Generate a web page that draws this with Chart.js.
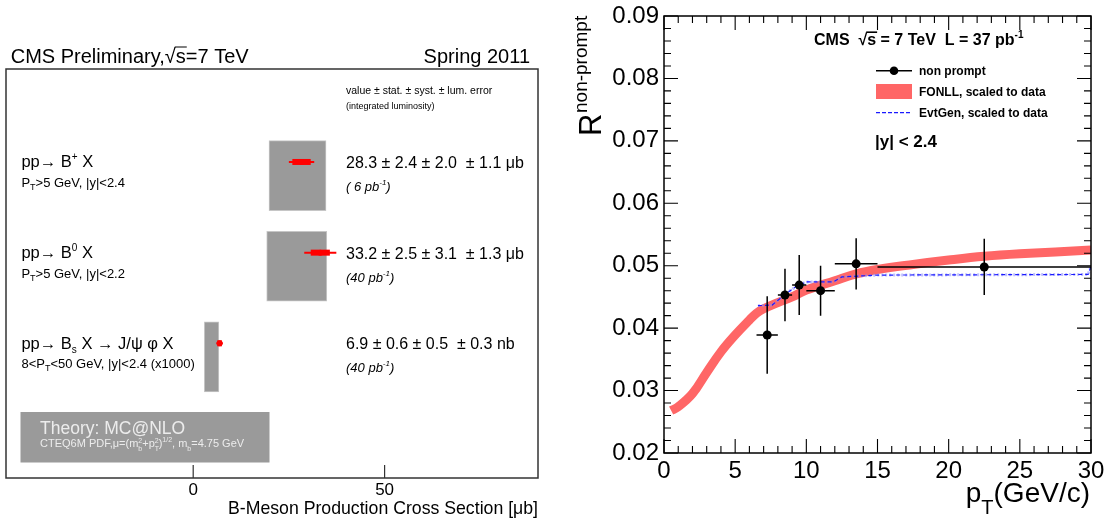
<!DOCTYPE html>
<html>
<head>
<meta charset="utf-8">
<script src="https://cdn.jsdelivr.net/npm/chart.js@4.4.1/dist/chart.umd.min.js"></script>
<style>
  html, body { margin: 0; padding: 0; background: #fff; }
  #wrap { position: relative; width: 1110px; height: 521px; overflow: hidden; }
  #wrap canvas { position: absolute; left: 0; top: 0; }
</style>
</head>
<body>
<div id="wrap">
  <canvas id="xsecChart" width="1110" height="521"></canvas>
  <canvas id="ratioChart" width="1110" height="521"></canvas>
</div>
<script>
// ---------- left panel: B-meson cross sections ----------
const channelRows = [1, 2, 3];
const xsecValues = [28.3, 33.2, 6.9];
const statErrors = [2.4, 2.5, 0.6];
const systErrors = [2.0, 3.1, 0.5];
const lumiErrors = [1.1, 1.3, 0.3];
const xsecUnits = ['μb', 'μb', 'nb'];
const lumiLabels = [' 6', '40', '40'];
const theoryLow = [19.8, 19.2, 2.9];
const theoryHigh = [34.7, 34.9, 6.7];
const xsecTicks = [0, 50];

// ---------- right panel: non-prompt ratio vs pT ----------
const ptCenters = [7.25, 8.5, 9.5, 11, 13.5, 22.5];
const ptBinLow = [6.5, 8, 9, 10, 12, 15];
const ptBinHigh = [8, 9, 10, 12, 15, 30];
const ratioValues = [0.0389, 0.0453, 0.0469, 0.0460, 0.0503, 0.0498];
const ratioErrors = [0.0062, 0.0042, 0.0048, 0.0040, 0.0041, 0.0045];
const fonllPt = [0.5, 1, 2, 3, 4, 5, 6, 6.5, 7, 8, 9, 10, 12, 13.5, 15, 17.5, 20, 22.5, 25, 30];
const fonllValues = [0.0268, 0.0274, 0.0295, 0.0329, 0.0362, 0.0389, 0.0413, 0.0424, 0.0431, 0.0441,
                     0.0450, 0.0461, 0.0476, 0.0487, 0.0494, 0.0502, 0.0509, 0.0515, 0.0519, 0.0525];
const evtgenPt = [6.6, 7.6, 8.5, 9.3, 10.0, 11.9, 12.5, 15, 29.8, 30];
const evtgenValues = [0.0436, 0.0437, 0.0454, 0.0467, 0.0474, 0.0474, 0.0482, 0.0485, 0.0486, 0.0499];
const ptTicks = [0, 5, 10, 15, 20, 25, 30];
const ratioTicks = [0.02, 0.03, 0.04, 0.05, 0.06, 0.07, 0.08, 0.09];

const FONT = '"Liberation Sans", Arial, Helvetica, sans-serif';
const BAND_RED = '#ff6666';

// row labels, drawn as rich text (sup/sub)
const channelLabels = [
    [{ t: 'pp→ B', size: 16.5 }, { t: '+', size: 10, dy: -7 }, { t: ' X', size: 16.5 }],
    [{ t: 'pp→ B', size: 16.5 }, { t: '0', size: 10, dy: -7 }, { t: ' X', size: 16.5 }],
    [{ t: 'pp→ B', size: 16.5 }, { t: 's', size: 10, dy: 4 }, { t: ' X → J/ψ φ X', size: 16.5 }]
];
const channelCuts = [
    [{ t: 'P', size: 13 }, { t: 'T', size: 9, dy: 3 }, { t: '>5 GeV, |y|<2.4', size: 13 }],
    [{ t: 'P', size: 13 }, { t: 'T', size: 9, dy: 3 }, { t: '>5 GeV, |y|<2.2', size: 13 }],
    [{ t: '8<P', size: 13 }, { t: 'T', size: 9, dy: 3 }, { t: '<50 GeV, |y|<2.4 (x1000)', size: 13 }]
];

// draws a list of text pieces one after the other; returns the end x
function drawRich(ctx, x, y, parts, align) {
    const setFont = p => {
        ctx.font = (p.style || 'normal') + ' ' + (p.weight || 'normal') + ' ' + p.size + 'px ' + FONT;
    };
    let total = 0;
    parts.forEach(p => {
        setFont(p);
        p.w = ctx.measureText(p.t).width;
        if (!p.stay) total += p.w;
    });
    let cx = align === 'right' ? x - total : x;
    ctx.textAlign = 'left';
    ctx.textBaseline = 'alphabetic';
    parts.forEach(p => {
        setFont(p);
        const py = y + (p.dy || 0);
        ctx.fillText(p.t, cx, py);
        if (p.over) {
            ctx.save();
            ctx.strokeStyle = ctx.fillStyle;
            ctx.lineWidth = p.weight === 'bold' ? 1.6 : 1;
            ctx.beginPath();
            ctx.moveTo(cx - 1, py - p.size * 0.8);
            ctx.lineTo(cx + p.w + 1, py - p.size * 0.8);
            ctx.stroke();
            ctx.restore();
        }
        if (!p.stay) cx += p.w;
    });
    return cx;
}

// ---------- left chart ----------
const xsecDecor = {
    id: 'xsecDecor',
    afterDatasetsDraw(chart) {
        const { ctx, scales: { x, y } } = chart;
        ctx.save();
        channelRows.forEach((row, i) => {
            const cy = y.getPixelForValue(row);
            const total = Math.hypot(statErrors[i], systErrors[i], lumiErrors[i]);
            ctx.strokeStyle = '#ff0000';
            ctx.lineWidth = 2;
            ctx.beginPath();
            ctx.moveTo(x.getPixelForValue(xsecValues[i] - total), cy);
            ctx.lineTo(x.getPixelForValue(xsecValues[i] + total), cy);
            ctx.stroke();
            const x0 = x.getPixelForValue(xsecValues[i] - statErrors[i]);
            const x1 = x.getPixelForValue(xsecValues[i] + statErrors[i]);
            ctx.fillStyle = '#ff0000';
            ctx.fillRect(x0, cy - 3, x1 - x0, 6);
        });
        ctx.restore();
    },
    afterDraw(chart) {
        const { ctx, chartArea: a, scales: { x, y } } = chart;
        ctx.save();
        // frame
        ctx.strokeStyle = '#333';
        ctx.lineWidth = 1.5;
        ctx.strokeRect(a.left, a.top, a.right - a.left, a.bottom - a.top);
        // x ticks
        ctx.fillStyle = '#000';
        ctx.lineWidth = 1.2;
        xsecTicks.forEach(v => {
            const px = x.getPixelForValue(v);
            ctx.beginPath();
            ctx.moveTo(px, a.bottom);
            ctx.lineTo(px, a.bottom - 13);
            ctx.stroke();
            ctx.font = '17px ' + FONT;
            ctx.textAlign = 'center';
            ctx.fillText(String(v), px, a.bottom + 17);
        });
        ctx.textAlign = 'right';
        ctx.font = '17.7px ' + FONT;
        ctx.fillText('B-Meson Production Cross Section [μb]', a.right, 514);

        // title line
        drawRich(ctx, 10.7, 63, [
            { t: 'CMS Preliminary,', size: 20 }, { t: '√', size: 20 },
            { t: 's', size: 20, over: true }, { t: '=7 TeV', size: 20 }
        ]);
        drawRich(ctx, 530, 63, [{ t: 'Spring 2011', size: 20 }], 'right');

        // header of the values column
        const colX = 346;
        drawRich(ctx, colX, 94, [{ t: 'value ± stat. ± syst. ± lum. error', size: 10.5 }]);
        drawRich(ctx, colX, 109, [{ t: '(integrated luminosity)', size: 9 }]);

        channelRows.forEach((row, i) => {
            const cy = y.getPixelForValue(row);
            ctx.fillStyle = '#000';
            drawRich(ctx, 21.4, cy + 5.5, channelLabels[i]);
            drawRich(ctx, 21.4, cy + 25, channelCuts[i]);
            const txt = xsecValues[i].toFixed(1) + ' ± ' + statErrors[i].toFixed(1) + ' ± ' +
                systErrors[i].toFixed(1) + '  ± ' + lumiErrors[i].toFixed(1) + ' ' + xsecUnits[i];
            drawRich(ctx, colX, cy + 6, [{ t: txt, size: 16 }]);
            drawRich(ctx, colX, cy + 29, [
                { t: '(' + lumiLabels[i] + ' pb', size: 13, style: 'italic' },
                { t: '-1', size: 8, style: 'italic', dy: -6 },
                { t: ')', size: 13, style: 'italic' }
            ]);
        });

        // theory legend box
        const bx = a.left + 14.5, by = 412, bw = 249, bh = 50.5;
        ctx.fillStyle = '#9a9a9a';
        ctx.fillRect(bx, by, bw, bh);
        ctx.fillStyle = '#ececec';
        drawRich(ctx, 40, 433.5, [{ t: 'Theory: MC@NLO', size: 17.5 }]);
        drawRich(ctx, 40, 447, [
            { t: 'CTEQ6M PDF,μ=(m', size: 11 },
            { t: 'b', size: 7, dy: 3.5, stay: true }, { t: '2', size: 7, dy: -4.5 },
            { t: '+p', size: 11 },
            { t: 'T', size: 7, dy: 3.5, stay: true }, { t: '2', size: 7, dy: -4.5 },
            { t: ')', size: 11 }, { t: '1/2', size: 7, dy: -5 },
            { t: ', m', size: 11 }, { t: 'b', size: 7, dy: 3.5 },
            { t: '=4.75 GeV', size: 11 }
        ]);
        ctx.restore();
    }
};

new Chart(document.getElementById('xsecChart'), {
    type: 'scatter',
    data: {
        datasets: [
            {
                type: 'bar',
                label: 'MC@NLO',
                indexAxis: 'y',
                data: channelRows.map((r, i) => ({ x: [theoryLow[i], theoryHigh[i]], y: r + 0.15 })),
                backgroundColor: '#9a9a9a',
                borderColor: '#c6c6c6',
                borderWidth: 1,
                borderSkipped: false,
                barThickness: 70,
                order: 2
            },
            {
                type: 'scatter',
                label: 'measured',
                data: channelRows.map((r, i) => ({ x: xsecValues[i], y: r })),
                backgroundColor: '#ff0000',
                borderWidth: 0,
                pointRadius: 3,
                order: 1
            }
        ]
    },
    options: {
        responsive: false,
        animation: false,
        events: [],
        layout: { padding: { left: 6, right: 572, top: 69, bottom: 43 } },
        plugins: { legend: { display: false }, tooltip: { enabled: false } },
        scales: {
            x: { type: 'linear', min: -48.9, max: 90.07, display: false },
            y: { type: 'linear', min: 0.2, max: 4.26, reverse: true, display: false }
        }
    },
    plugins: [xsecDecor]
});

// ---------- right chart ----------
const ratioDecor = {
    id: 'ratioDecor',
    afterDatasetsDraw(chart) {
        const { ctx, scales: { x, y } } = chart;
        ctx.save();
        ctx.strokeStyle = '#000';
        ctx.lineWidth = 1.5;
        ptCenters.forEach((p, i) => {
            const px = x.getPixelForValue(p), py = y.getPixelForValue(ratioValues[i]);
            ctx.beginPath();
            ctx.moveTo(px, y.getPixelForValue(ratioValues[i] - ratioErrors[i]));
            ctx.lineTo(px, y.getPixelForValue(ratioValues[i] + ratioErrors[i]));
            ctx.moveTo(x.getPixelForValue(ptBinLow[i]), py);
            ctx.lineTo(x.getPixelForValue(ptBinHigh[i]), py);
            ctx.stroke();
        });
        ctx.restore();
    },
    afterDraw(chart) {
        const { ctx, chartArea: a, scales: { x, y } } = chart;
        ctx.save();
        ctx.strokeStyle = '#000';
        ctx.fillStyle = '#000';
        ctx.lineWidth = 1.5;
        ctx.strokeRect(a.left, a.top, a.right - a.left, a.bottom - a.top);

        // ticks on all four sides, pointing inwards
        ctx.lineWidth = 1.1;
        ctx.beginPath();
        for (let v = 0; v <= 30; v += 1) {
            const len = v % 5 === 0 ? 14 : 7;
            const px = x.getPixelForValue(v);
            ctx.moveTo(px, a.bottom); ctx.lineTo(px, a.bottom - len);
            ctx.moveTo(px, a.top); ctx.lineTo(px, a.top + len);
        }
        for (let k = 0; k <= 35; k++) {
            const len = k % 5 === 0 ? 14 : 7;
            const py = y.getPixelForValue(0.02 + k * 0.002);
            ctx.moveTo(a.left, py); ctx.lineTo(a.left + len, py);
            ctx.moveTo(a.right, py); ctx.lineTo(a.right - len, py);
        }
        ctx.stroke();

        ctx.font = '24px ' + FONT;
        ctx.textAlign = 'right';
        ctx.textBaseline = 'middle';
        ratioTicks.forEach(v => ctx.fillText(v.toFixed(2), a.left - 5, y.getPixelForValue(v)));
        ctx.textAlign = 'center';
        ctx.textBaseline = 'alphabetic';
        ptTicks.forEach(v => ctx.fillText(String(v), x.getPixelForValue(v), a.bottom + 25));

        // axis titles
        drawRich(ctx, a.right - 1, 502, [
            { t: 'p', size: 28 }, { t: 'T', size: 20, dy: 12 }, { t: '(GeV/c)', size: 28 }
        ], 'right');
        ctx.save();
        ctx.translate(601, 136);
        ctx.rotate(-Math.PI / 2);
        drawRich(ctx, 0, 0, [{ t: 'R', size: 31 }]);
        drawRich(ctx, 23, -14, [{ t: 'non-prompt', size: 19 }]);
        ctx.restore();

        // CMS label
        drawRich(ctx, 814, 45, [
            { t: 'CMS  ', size: 16, weight: 'bold' }, { t: '√', size: 16, weight: 'bold' },
            { t: 's', size: 16, weight: 'bold', over: true },
            { t: ' = 7 TeV  L = 37 pb', size: 16, weight: 'bold' },
            { t: '-1', size: 10, weight: 'bold', dy: -7 }
        ]);

        // legend
        ctx.lineWidth = 1.5;
        ctx.beginPath();
        ctx.moveTo(876, 70.7); ctx.lineTo(912, 70.7);
        ctx.stroke();
        ctx.beginPath();
        ctx.arc(894, 70.7, 4.3, 0, Math.PI * 2);
        ctx.fill();
        ctx.fillStyle = BAND_RED;
        ctx.fillRect(876, 84, 36, 15);
        ctx.strokeStyle = '#1a1aff';
        ctx.lineWidth = 1.2;
        ctx.setLineDash([4, 2]);
        ctx.beginPath();
        ctx.moveTo(876, 112.7); ctx.lineTo(911, 112.7);
        ctx.stroke();
        ctx.setLineDash([]);
        ctx.fillStyle = '#000';
        drawRich(ctx, 919, 75, [{ t: 'non prompt', size: 12, weight: 'bold' }]);
        drawRich(ctx, 919, 96, [{ t: 'FONLL, scaled to data', size: 12, weight: 'bold' }]);
        drawRich(ctx, 919, 117, [{ t: 'EvtGen, scaled to data', size: 12, weight: 'bold' }]);
        drawRich(ctx, 875, 147, [{ t: '|y| < 2.4', size: 17, weight: 'bold' }]);
        ctx.restore();
    }
};

new Chart(document.getElementById('ratioChart'), {
    type: 'scatter',
    data: {
        datasets: [
            {
                label: 'non prompt',
                data: ptCenters.map((p, i) => ({ x: p, y: ratioValues[i] })),
                backgroundColor: '#000',
                borderWidth: 0,
                pointRadius: 4.5,
                order: 0
            },
            {
                type: 'line',
                label: 'EvtGen, scaled to data',
                data: evtgenPt.map((p, i) => ({ x: p, y: evtgenValues[i] })),
                borderColor: 'rgba(140,140,255,0.55)',
                borderWidth: 3,
                borderDash: [2, 2],
                pointRadius: 0,
                fill: false,
                order: 2
            },
            {
                type: 'line',
                label: 'EvtGen (dashed)',
                data: evtgenPt.map((p, i) => ({ x: p, y: evtgenValues[i] })),
                borderColor: '#1a1aff',
                borderWidth: 1.2,
                borderDash: [4, 3],
                pointRadius: 0,
                fill: false,
                order: 1
            },
            {
                type: 'line',
                label: 'FONLL, scaled to data',
                data: fonllPt.map((p, i) => ({ x: p, y: fonllValues[i] })),
                borderColor: BAND_RED,
                borderWidth: 9,
                borderCapStyle: 'butt',
                tension: 0.4,
                pointRadius: 0,
                fill: false,
                order: 3
            }
        ]
    },
    options: {
        responsive: false,
        animation: false,
        events: [],
        layout: { padding: { left: 664, right: 19, top: 16, bottom: 68 } },
        plugins: { legend: { display: false }, tooltip: { enabled: false } },
        scales: {
            x: { type: 'linear', min: 0, max: 30, display: false },
            y: { type: 'linear', min: 0.02, max: 0.09, display: false }
        }
    },
    plugins: [ratioDecor]
});
</script>
</body>
</html>
